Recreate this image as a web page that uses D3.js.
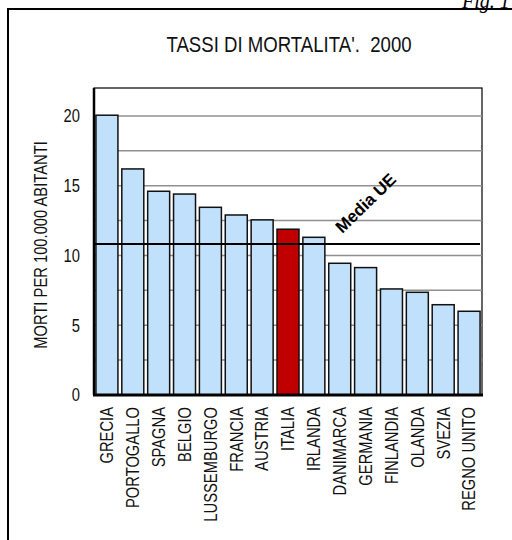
<!DOCTYPE html>
<html><head><meta charset="utf-8">
<script src="https://cdn.jsdelivr.net/npm/d3@7"></script>
<style>body{margin:0;background:#fff}svg{display:block}text{white-space:pre}</style>
</head><body><svg id="c" width="512" height="540"></svg>
<script>
const countries = ["GRECIA","PORTOGALLO","SPAGNA","BELGIO","LUSSEMBURGO","FRANCIA","AUSTRIA","ITALIA","IRLANDA","DANIMARCA","GERMANIA","FINLANDIA","OLANDA","SVEZIA","REGNO UNITO"];
const rates = [20.05,16.2,14.6,14.4,13.45,12.9,12.55,11.88,11.3,9.44,9.13,7.6,7.36,6.47,6.0];
const euAverage = 10.82;
const yTicks = [0,5,10,15,20];
const gridValues = [2.5,5,7.5,10,12.5,15,17.5,20];
const highlight = "ITALIA";

const svg = d3.select("#c");
const L = 94, R = 482, T = 88, B = 395;
const x = d3.scaleBand().domain(countries).range([L, R]).paddingInner(0.15).paddingOuter(0.075);
const y = d3.scaleLinear().domain([0, 22]).range([B, T]);
const font = "'Liberation Sans', Arial, sans-serif";
const narrow = 0.82; // emulate Arial Narrow

// outer frame
svg.append("rect").attr("x",8).attr("y",9).attr("width",540).attr("height",560)
  .attr("fill","none").attr("stroke","#000").attr("stroke-width",2);
svg.append("text").attr("x",462).attr("y",8).attr("font-family","Liberation Serif, Times New Roman, serif")
  .attr("font-style","italic").attr("font-size",20).text("Fig. 1");

// title
svg.append("text").attr("transform",`translate(289,52) scale(${narrow},1)`).attr("text-anchor","middle")
  .attr("font-family",font).attr("font-size",22.7).attr("fill","#111").text("TASSI DI MORTALITA'.  2000");

// plot box
svg.append("rect").attr("x",L).attr("y",T).attr("width",R-L).attr("height",B-T)
  .attr("fill","#fff").attr("stroke","#000").attr("stroke-width",1.2);

// gridlines
svg.append("g").selectAll("line").data(gridValues).join("line")
  .attr("x1",L).attr("x2",R).attr("y1",d=>y(d)).attr("y2",d=>y(d))
  .attr("stroke","#909090").attr("stroke-width",1.5);

// bars
svg.append("g").selectAll("rect").data(countries).join("rect")
  .attr("x",d=>x(d)).attr("width",x.bandwidth())
  .attr("y",(d,i)=>y(rates[i])).attr("height",(d,i)=>B-y(rates[i]))
  .attr("fill",d=>d===highlight?"#c00000":"#c0e0fc")
  .attr("stroke","#111").attr("stroke-width",1.5);

// EU average line
svg.append("line").attr("x1",L).attr("x2",R-2).attr("y1",y(euAverage)).attr("y2",y(euAverage))
  .attr("stroke","#000").attr("stroke-width",2.2);
svg.append("text").attr("transform",`translate(${x("GERMANIA")+x.bandwidth()/2},${y(euAverage)-41}) rotate(-44)`)
  .attr("text-anchor","middle").attr("dy","0.35em").attr("font-family",font).attr("font-weight","bold").attr("font-size",17)
  .text("Media UE");

// axes lines
svg.append("line").attr("x1",L).attr("x2",L).attr("y1",T).attr("y2",B).attr("stroke","#000").attr("stroke-width",2.5);
svg.append("line").attr("x1",L-1).attr("x2",R+1).attr("y1",B).attr("y2",B).attr("stroke","#000").attr("stroke-width",3);

// y axis
const ya = d3.axisLeft(y).tickValues(yTicks).tickSize(0).tickPadding(0);
const gy = svg.append("g").attr("transform",`translate(${L},0)`).call(ya);
gy.select(".domain").remove();
gy.selectAll("text").attr("font-family",font).attr("font-size",18).attr("fill","#111")
  .attr("x",null).attr("transform",`translate(-14,0) scale(${narrow},1)`);

// x axis
const xa = d3.axisBottom(x).tickSize(0).tickPadding(0);
const gx = svg.append("g").attr("transform",`translate(0,${B})`).call(xa);
gx.select(".domain").remove();
gx.selectAll("text").attr("font-family",font).attr("font-size",18).attr("fill","#111")
  .attr("text-anchor","end")
  .attr("transform",`translate(0,12) rotate(-90) scale(${narrow},1)`).attr("x",0).attr("y",0).attr("dy","0.35em");

// y label
svg.append("text").attr("transform",`translate(41,245) rotate(-90) scale(${narrow},1)`).attr("text-anchor","middle")
  .attr("dy","0.35em").attr("font-family",font).attr("font-size",18).attr("fill","#111").text("MORTI PER 100.000 ABITANTI");
</script></body></html>
